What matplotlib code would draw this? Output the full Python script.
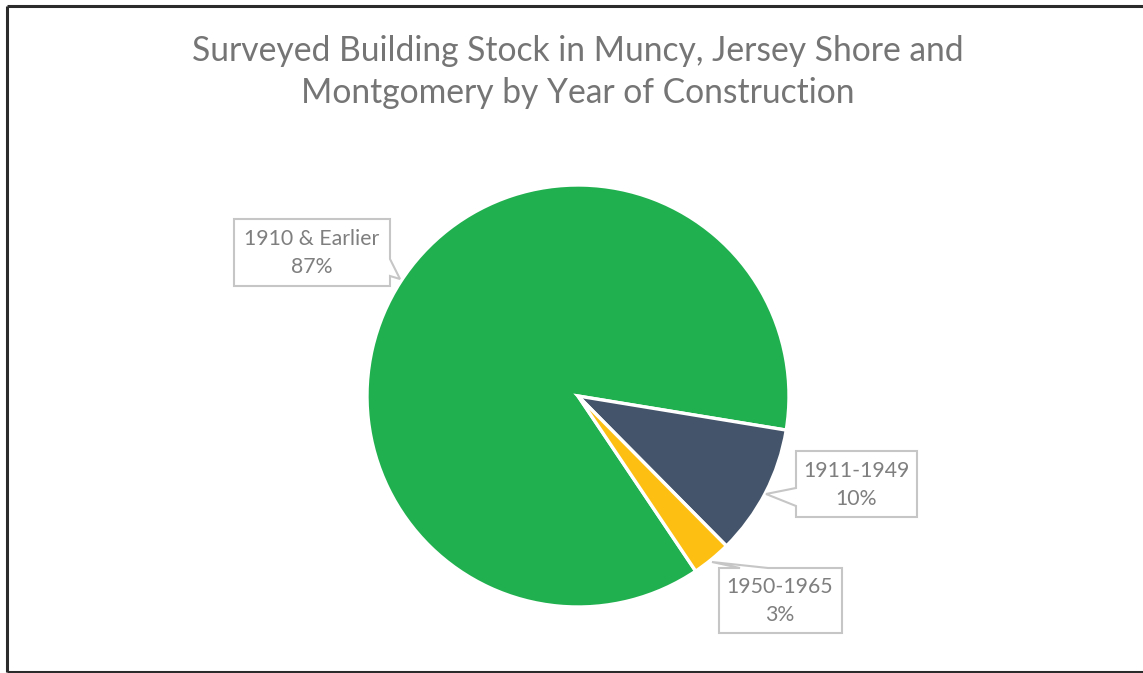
import matplotlib.pyplot as plt
from matplotlib.patches import Polygon
from matplotlib.lines import Line2D

# data
periods = ["1910 & Earlier", "1911-1949", "1950-1965"]
shares = [87, 10, 3]
colors = ["#21B04F", "#44546A", "#FDBF12"]

W, H = 1143, 673

def P(x, y):
    # pixel coords (y down) -> axes data coords (y up)
    return (x, H - y)

fig = plt.figure(figsize=(W / 100, H / 100), dpi=100)
ax = fig.add_axes([0, 0, 1, 1])

ax.pie(shares, colors=colors, startangle=303.9, counterclock=False,
       radius=211, center=P(578, 396),
       wedgeprops={"linewidth": 2.4, "edgecolor": "white"})
ax.set_xlim(0, W)
ax.set_ylim(0, H)
ax.set_aspect("auto")
ax.axis("off")

# chart border (left, top, bottom)
border = dict(color="#2b2b2b", linewidth=2.2, solid_capstyle="butt")
ax.add_line(Line2D([7, 7], [H - 6, H - 672], **border))
ax.add_line(Line2D([7, W], [H - 6, H - 6], **border))
ax.add_line(Line2D([7, W], [H - 672, H - 672], **border))

ax.text(578, H - 72, "Surveyed Building Stock in Muncy, Jersey Shore and\nMontgomery by Year of Construction",
        ha="center", va="center", fontsize=24.2, color="#757575", family="Lato",
        linespacing=1.4)

# callout boxes: outline points in pixel coords
callouts = [
    [(234, 219), (390, 219), (390, 259), (400, 279), (390, 276), (390, 286), (234, 286)],
    [(796, 451), (917, 451), (917, 517), (796, 517), (796, 506), (766, 494), (796, 488)],
    [(719, 568), (740, 568), (712, 562), (768, 568), (842, 568), (842, 633), (719, 633)],
]
centers = [(312, 253), (856, 485), (780, 601)]

total = sum(shares)
for name, val, pts, (cx, cy) in zip(periods, shares, callouts, centers):
    poly = Polygon([P(x, y) for x, y in pts], closed=True, facecolor="white",
                   edgecolor="#C6C6C6", linewidth=1.5)
    ax.add_patch(poly)
    pct = round(100 * val / total)
    ax.text(cx, H - cy, f"{name}\n{pct}%", ha="center", va="center",
            fontsize=15.3, color="#7F7F7F", family="Lato", linespacing=1.5)

fig.savefig("out.png", dpi=100)
